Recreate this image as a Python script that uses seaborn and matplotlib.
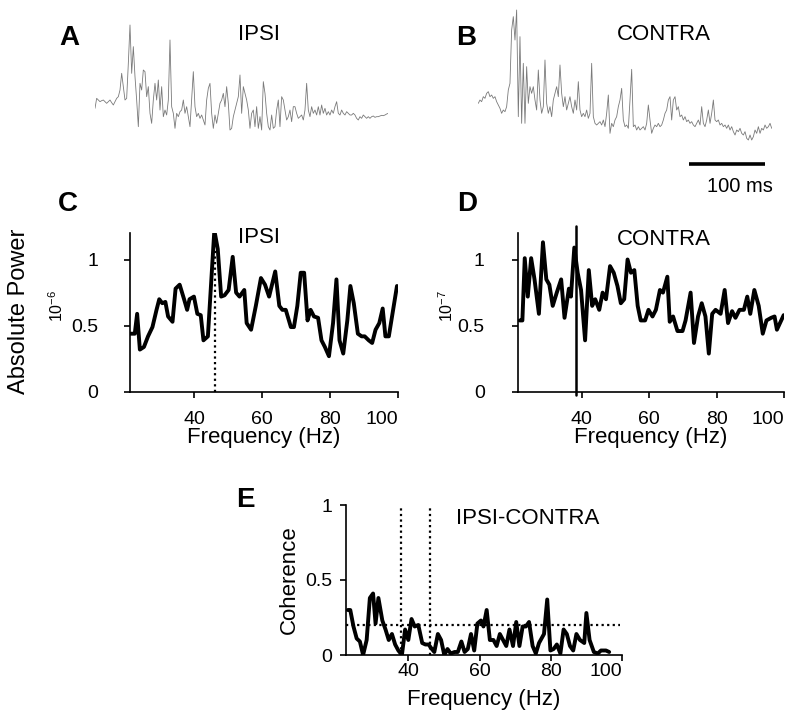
import numpy as np
import pandas as pd
import matplotlib
matplotlib.use("Agg")
import matplotlib.pyplot as plt
import seaborn as sns

# ---------------- data ----------------
trace_dt_ms = 2.2
ipsi_trace = [5, 35, 30, 25, 28, 30, 25, 20, 25, 30, 22, 15, 25, 35, 40, 60, 110, 70, 30, 35,
              140, 255, 110, 190, 100, 30, -50, 80, 60, 120, 115, 40, 70, -10, -40, 30, 80, 30, 90, 0,
              70, -20, 0, -15, 30, 210, 10, -10, -55, -10, -20, -5, 0, 30, -10, 10, -20, -50, 30, 115,
              10, -20, -10, -25, -15, -30, -45, 30, 65, 80, -10, -55, -15, -40, -10, 20, 30, 50, 10, 70,
              20, -60, -55, -20, 0, 20, 40, 105, -10, 70, 50, 30, 0, -55, -10, 0, -50, 10, -55, -20,
              -60, 85, 50, -10, -50, -60, -15, -55, -50, 0, 30, -50, 40, 30, 0, -30, -20, 0, -35, 10,
              10, -10, -25, -20, -15, -30, 0, 80, 0, -20, 10, -10, 0, -15, 10, -15, 15, -10, 5, -15,
              -5, -15, 0, -10, 10, 25, -10, -15, 0, -10, -15, -5, -10, -15, -15, -10, -15, -25, -30, -20,
              -25, -15, -20, -25, -20, -25, -20, -18, -22, -20, -20, -18, -16, -17, -15, -12, -10]
contra_trace = [-10, 0, -5, 10, 5, 20, 25, 10, 15, 5, 10, -5, -15, -25, -40, -30, -35, -20, 30, 50,
                210, 250, 180, 270, -50, 190, -70, 110, -70, 100, -10, 40, 20, 40, 0, -30, 90, 0, -40, -20,
                120, -10, -40, -20, -50, 0, 20, 40, 10, 105, 20, -20, 10, -30, -10, 10, -20, -40, 0, -30,
                55, -30, -50, -40, -50, -30, -55, -40, 110, -50, -70, -75, -70, -65, -75, -60, -80, -40, 15, -100,
                -70, -80, -60, -50, -20, 0, 35, -60, -80, -75, -85, 0, 92, -80, -75, -90, -80, -90, -85, -80,
                -90, -70, -15, -60, -100, -85, -75, -80, -70, -80, -75, -60, -40, -30, 0, 10, -60, 0, 10, -30,
                -20, -50, -45, -60, -50, -65, -60, -70, -65, -75, -80, -70, -60, -75, -20, -70, -80, -60, -30, -70,
                -40, 0, -60, -65, -60, -75, -70, -80, -75, -85, -75, -90, -80, -95, -105, -90, -95, -85, -100, -105,
                -95, -115, -120, -105, -120, -110, -90, -100, -80, -100, -85, -90, -75, -85, -80, -70, -85]
scale_bar_ms = 100

ipsi_freq = [21.4, 22.6, 23.3, 24.1, 25.3, 26.5, 27.8, 29.0, 29.8, 30.7, 31.6, 32.4, 33.7, 34.6, 35.8,
             37.1, 38.0, 38.7, 40.0, 41.0, 42.0, 42.8, 44.1, 46.0, 47.0, 48.0, 49.0, 50.2, 51.4, 52.4,
             53.4, 54.8, 55.5, 56.8, 58.2, 59.7, 60.9, 62.1, 63.9, 65.1, 66.0, 67.0, 68.5, 69.4, 70.4,
             71.4, 72.4, 73.4, 74.3, 75.3, 76.5, 77.5, 78.5, 79.7, 80.9, 81.9, 82.8, 83.9, 85.1, 86.0,
             87.0, 88.2, 89.3, 90.2, 91.4, 92.4, 93.4, 94.5, 95.5, 96.3, 97.3, 99.7]
ipsi_power = [0.44, 0.44, 0.59, 0.32, 0.34, 0.42, 0.49, 0.62, 0.70, 0.67, 0.68, 0.57, 0.53, 0.78, 0.81,
              0.70, 0.62, 0.70, 0.72, 0.59, 0.58, 0.39, 0.42, 1.22, 1.08, 0.72, 0.73, 0.77, 1.02, 0.75,
              0.72, 0.77, 0.52, 0.47, 0.65, 0.86, 0.81, 0.72, 0.91, 0.65, 0.62, 0.62, 0.49, 0.49, 0.65,
              0.90, 0.90, 0.54, 0.62, 0.57, 0.56, 0.39, 0.34, 0.27, 0.52, 0.85, 0.39, 0.29, 0.54, 0.80,
              0.67, 0.44, 0.42, 0.42, 0.39, 0.37, 0.47, 0.52, 0.63, 0.42, 0.42, 0.80]
ipsi_peak_hz = 46.3
ipsi_peak_power = 1.08

contra_freq = [21.6, 22.4, 23.1, 24.0, 25.0, 26.0, 27.3, 28.5, 29.5, 30.4, 31.4, 32.6, 33.9, 34.9, 36.2,
               36.8, 37.8, 38.8, 39.8, 41.0, 42.1, 43.1, 44.0, 45.2, 46.2, 47.2, 48.4, 49.5, 50.6, 51.6,
               52.6, 53.6, 54.6, 55.6, 56.6, 57.5, 58.8, 59.8, 61.0, 62.0, 63.2, 64.1, 65.4, 66.1, 67.1,
               68.4, 69.9, 70.8, 72.3, 73.3, 74.5, 75.6, 76.7, 77.7, 78.7, 79.7, 81.2, 82.4, 83.4, 84.6,
               85.6, 86.8, 88.1, 89.1, 90.0, 91.2, 92.5, 93.7, 94.8, 96.2, 97.2, 97.9, 99.9]
contra_power = [0.54, 0.54, 1.01, 0.72, 1.01, 0.85, 0.59, 1.13, 0.85, 0.81, 0.65, 0.75, 0.85, 0.56, 0.78,
                0.72, 1.09, 0.90, 0.77, 0.39, 0.92, 0.65, 0.70, 0.62, 0.75, 0.70, 0.95, 0.90, 0.80, 0.67,
                0.70, 1.00, 0.90, 0.92, 0.65, 0.54, 0.54, 0.62, 0.57, 0.62, 0.77, 0.75, 0.87, 0.53, 0.57,
                0.46, 0.46, 0.54, 0.75, 0.37, 0.57, 0.67, 0.57, 0.29, 0.59, 0.62, 0.59, 0.77, 0.52, 0.61,
                0.56, 0.62, 0.62, 0.72, 0.59, 0.77, 0.65, 0.44, 0.54, 0.56, 0.57, 0.47, 0.58]
contra_peak_hz = 38.3

coh_freq = [23.0, 23.7, 24.6, 25.5, 26.4, 27.3, 28.3, 29.2, 30.1, 30.8, 31.6, 32.7, 33.6, 34.5, 35.4,
            36.3, 37.2, 38.2, 39.1, 40.0, 40.9, 41.8, 42.8, 43.9, 44.8, 45.7, 46.6, 47.3, 48.3, 49.2,
            50.1, 51.0, 51.9, 53.0, 53.9, 54.9, 55.8, 56.7, 57.6, 58.5, 59.4, 60.4, 61.1, 62.0, 62.9,
            63.9, 64.8, 65.7, 66.6, 67.5, 68.4, 69.4, 70.3, 71.2, 72.1, 73.0, 73.9, 74.9, 75.8, 76.7,
            78.1, 79.0, 79.9, 80.8, 81.7, 82.7, 83.6, 84.5, 85.4, 86.3, 87.2, 88.2, 89.4, 90.0, 90.9,
            92.1, 93.2, 94.1, 95.5, 96.4]
coherence = [0.30, 0.30, 0.19, 0.11, 0.09, 0.0, 0.10, 0.38, 0.41, 0.21, 0.38, 0.23, 0.17, 0.10, 0.14,
             0.07, 0.03, 0.0, 0.17, 0.10, 0.24, 0.19, 0.20, 0.08, 0.07, 0.07, 0.04, 0.02, 0.14, 0.10,
             0.0, 0.04, 0.01, 0.02, 0.02, 0.09, 0.02, 0.04, 0.14, 0.03, 0.21, 0.23, 0.19, 0.30, 0.10,
             0.10, 0.06, 0.14, 0.10, 0.06, 0.17, 0.06, 0.22, 0.06, 0.19, 0.19, 0.22, 0.06, 0.01, 0.08,
             0.14, 0.37, 0.03, 0.04, 0.07, 0.01, 0.17, 0.14, 0.06, 0.03, 0.14, 0.10, 0.08, 0.28, 0.10,
             0.02, 0.01, 0.03, 0.03, 0.02]
coh_marks_hz = [38.0, 46.1]
coh_threshold = 0.2

freq_ticks = [40, 60, 80, 100]

# ---------------- style ----------------
sns.set_style("ticks")
plt.rcParams['font.family'] = ['Liberation Sans', 'DejaVu Sans']
plt.rcParams['mathtext.default'] = 'regular'
for k in ['text.color', 'axes.labelcolor', 'xtick.color', 'ytick.color', 'axes.edgecolor']:
    plt.rcParams[k] = 'black'

W, H = 800, 723
fig = plt.figure(figsize=(W / 100, H / 100), dpi=100)


def box(x0, x1, ytop, ybot):
    return [x0 / W, (H - ybot) / H, (x1 - x0) / W, (ybot - ytop) / H]


def ftext(x, y, s, **kw):
    fig.text(x / W, 1 - y / H, s, ha='center', va='center', color='black', **kw)


trace_color = '#7a7a7a'

# A trace
axA = fig.add_axes(box(95, 388.3, 20, 140))
dfA = pd.DataFrame({'t': np.arange(len(ipsi_trace)) * trace_dt_ms, 'v': ipsi_trace})
sns.lineplot(data=dfA, x='t', y='v', ax=axA, color=trace_color, lw=0.6, estimator=None)
axA.set_xlim(0, (len(ipsi_trace) - 1) * trace_dt_ms)
axA.set_ylim(-90, 270)
axA.axis('off')

# B trace
axB = fig.add_axes(box(478.3, 771.7, 5, 200))
dfB = pd.DataFrame({'t': np.arange(len(contra_trace)) * trace_dt_ms, 'v': contra_trace})
sns.lineplot(data=dfB, x='t', y='v', ax=axB, color=trace_color, lw=0.6, estimator=None)
axB.set_xlim(0, (len(contra_trace) - 1) * trace_dt_ms)
axB.set_ylim(-300, 285)
axB.axis('off')
axB.plot([278, 278 + scale_bar_ms], [-192, -192], color='black', lw=2.6, solid_capstyle='butt')
ftext(740, 186, f'{scale_bar_ms} ms', fontsize=14.5)


def style_spec(ax, xlim, ylim, yticks, ylabels, ypad, xpad, xlabpad):
    ax.set_xlim(*xlim)
    ax.set_ylim(*ylim)
    ax.set_xticks(freq_ticks)
    ax.set_xticklabels([str(t) for t in freq_ticks])
    ax.get_xticklabels()[-1].set_ha('right')
    ax.set_yticks(yticks)
    ax.set_yticklabels(ylabels)
    for s in ['top', 'right']:
        ax.spines[s].set_visible(False)
    for s in ['left', 'bottom']:
        ax.spines[s].set_linewidth(1.2)
        ax.spines[s].set_color('black')
    ax.tick_params(axis='both', labelsize=14, width=1.2, length=4, color='black', labelcolor='black')
    ax.tick_params(axis='y', pad=ypad)
    ax.tick_params(axis='x', pad=xpad)
    ax.set_xlabel('Frequency (Hz)', fontsize=16, labelpad=xlabpad, color='black')
    ax.set_ylabel('')


line_kw = dict(color='black', lw=2.8, estimator=None, sort=False)

# C
axC = fig.add_axes(box(130, 398, 233, 392))
sns.lineplot(x=ipsi_freq, y=ipsi_power, ax=axC, **line_kw)
axC.plot([ipsi_peak_hz, ipsi_peak_hz], [0, ipsi_peak_power], color='black', lw=1.6, ls=(0, (1, 1.5)))
style_spec(axC, (21.2, 100), (0, 1.2), [0, 0.5, 1], ['0', '0.5', '1'], 19, 10, -1)

# D
axD = fig.add_axes(box(518, 784, 233, 392))
sns.lineplot(x=contra_freq, y=contra_power, ax=axD, **line_kw)
axD.plot([contra_peak_hz, contra_peak_hz], [-0.02, 1.25], color='black', lw=1.8, clip_on=False)
style_spec(axD, (21.1, 100), (0, 1.2), [0, 0.5, 1], ['0', '0.5', '1'], 20, 10, -1)

# E
axE = fig.add_axes(box(346, 622, 505, 655))
sns.lineplot(x=coh_freq, y=coherence, ax=axE, **line_kw)
for f in coh_marks_hz:
    axE.plot([f, f], [0, 1], color='black', lw=1.6, ls=(0, (1, 1.5)))
axE.plot([22.5, 99.5], [coh_threshold, coh_threshold], color='black', lw=1.6, ls=(0, (1, 1.5)))
style_spec(axE, (22.5, 100), (0, 1), [0, 0.5, 1], ['0', '0.5', '1'], 6, 2, 6)
axE.set_ylabel('Coherence', fontsize=16, labelpad=4, color='black')

# texts
ftext(69, 38, 'A', fontsize=20, fontweight='bold')
ftext(466, 38, 'B', fontsize=20, fontweight='bold')
ftext(68, 204, 'C', fontsize=20, fontweight='bold')
ftext(467, 204, 'D', fontsize=20, fontweight='bold')
ftext(245, 500, 'E', fontsize=20, fontweight='bold')
ftext(259, 35, 'IPSI', fontsize=16)
ftext(664, 34, 'CONTRA', fontsize=16)
ftext(259.5, 238, 'IPSI', fontsize=16)
ftext(664, 240, 'CONTRA', fontsize=16)
ftext(528, 519, 'IPSI-CONTRA', fontsize=16)
ftext(19, 311, 'Absolute Power', fontsize=17, rotation=90)
ftext(57, 306, r'$10^{-6}$', fontsize=11.5, rotation=90)
ftext(447, 306, r'$10^{-7}$', fontsize=11.5, rotation=90)

fig.savefig('out.png', dpi=100)
